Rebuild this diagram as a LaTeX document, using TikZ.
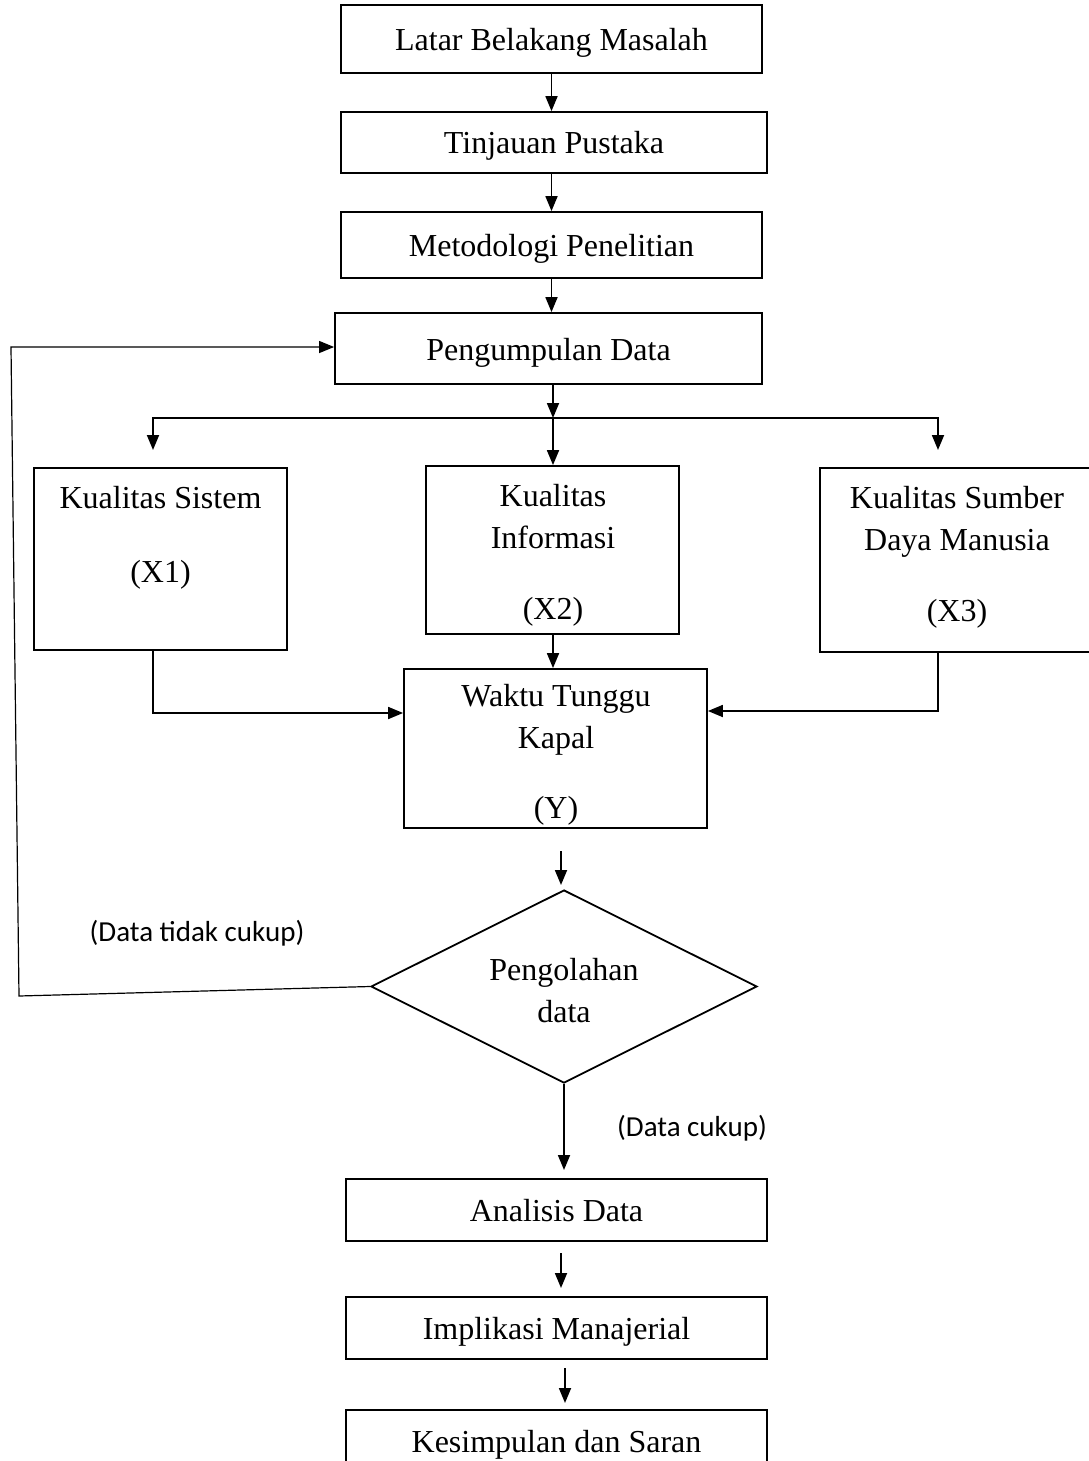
\documentclass[tikz,border=0pt]{standalone}
\usepackage{fontspec}
\setmainfont{Liberation Serif}
\newfontfamily\calibri{Carlito}
\usepackage{tikz}
\usetikzlibrary{arrows.meta, shapes.geometric}

\tikzset{
	box/.style={draw, line width=0.9pt, rectangle, inner sep=0pt, text height=14pt, text depth=2.5pt, font=\fontsize{16}{21}\selectfont},
	txt/.style={align=center, inner sep=0pt, font=\fontsize{16}{21}\selectfont},
	arr/.style={line width=0.9pt, -{Triangle[length=7.5pt,width=6pt]}},
	lbl/.style={inner sep=0pt, font=\calibri\fontsize{14.5}{17}\selectfont}
}

\begin{document}
\begin{tikzpicture}[x=0.5pt, y=-0.5pt]
	\useasboundingbox (0,0) rectangle (1088,1461);
	
	\node[box, minimum width=210.5pt, minimum height=34pt] (lbm) at (551.5,39) {Latar Belakang Masalah};
	\node[box, minimum width=213pt, minimum height=30.5pt] (tp) at (554,142.5) {Tinjauan Pustaka};
	\node[box, minimum width=210.5pt, minimum height=33pt] (mp) at (551.5,245) {Metodologi Penelitian};
	\node[box, minimum width=213.5pt, minimum height=35.5pt] (pd) at (548.5,348.5) {Pengumpulan Data};
	
	\node[box, minimum width=126.5pt, minimum height=91pt] (x1) at (160.5,559) {};
	\node[box, minimum width=126.5pt, minimum height=84pt] (x2) at (552.5,550) {};
	\node[box, minimum width=135pt, minimum height=92pt] (x3) at (955,560) {};
	\node[txt] (x1t) at (160.5,538) {Kualitas Sistem\\[16pt](X1)};
	\node[txt] (x2t) at (553,555) {Kualitas\\Informasi\\[14.5pt](X2)};
	\node[txt] (x3t) at (957,557) {Kualitas Sumber\\Daya Manusia\\[14.5pt](X3)};
	
	\node[box, minimum width=151.5pt, minimum height=79.5pt] (wtk) at (555.5,748.5) {};
	\node[txt] (wtkt) at (556,755) {Waktu Tunggu\\Kapal\\[14pt](Y)};
	
	\node[draw, line width=0.9pt, diamond, inner sep=0pt, minimum width=193pt, minimum height=96.5pt] (dia) at (564,986.5) {};
	\node[txt] (diat) at (564,991) {Pengolahan\\data};
	
	\node[box, minimum width=210.5pt, minimum height=31pt] (ad) at (556.5,1210) {Analisis Data};
	\node[box, minimum width=210.5pt, minimum height=31pt] (im) at (556.5,1328) {Implikasi Manajerial};
	\node[box, minimum width=210.5pt, minimum height=31pt] (ks) at (556.5,1441) {Kesimpulan dan Saran};
	
	\node[lbl] (tc) at (197,933) {(Data tidak cukup)};
	\node[lbl] (dc) at (692,1128) {(Data cukup)};
	
	% points for the connectors
	\coordinate (split) at (553,418);
	\coordinate (a1) at (153,450);
	\coordinate (a3) at (938,450);
	\coordinate (c1) at (153,713);
	\coordinate (c3) at (938,711);
	\coordinate (fb1) at (19,996);
	\coordinate (fb2) at (11,347);
	\coordinate (ys) at (561,851);
	\coordinate (ye) at (561,885);
	\coordinate (de) at (564,1170);
	\coordinate (as) at (561,1253);
	\coordinate (ae) at (561,1288);
	\coordinate (is) at (565,1368);
	\coordinate (ie) at (565,1403);
	
	\draw[arr] (lbm.south) -- (lbm.south |- tp.north);
	\draw[arr] (tp.south -| mp.north) -- (mp.north);
	\draw[arr] (mp.south) -- (mp.south |- pd.north);
	\draw[arr] (pd.south -| split) -- (split);
	\draw[line width=0.9pt] (a1 |- split) -- (a3 |- split);
	\draw[arr] (split) -| (a1);
	\draw[arr] (split) -| (a3);
	\draw[arr] (split) -- (x2.north -| split);
	
	\draw[arr] (x1.south -| c1) -- (c1) -- (c1 -| wtk.west);
	\draw[arr] (x2.south -| split) -- (wtk.north -| split);
	\draw[arr] (x3.south -| c3) -- (c3) -- (c3 -| wtk.east);
	
	\draw[arr] (ys) -- (ye);
	\draw[line width=0.6pt, -{Triangle[length=7.5pt,width=6pt]}] (dia.west) -- (fb1) -- (fb2) -- (fb2 -| pd.west);
	\draw[arr] (dia.south) -- (de);
	\draw[arr] (as) -- (ae);
	\draw[arr] (is) -- (ie);
\end{tikzpicture}
\end{document}
